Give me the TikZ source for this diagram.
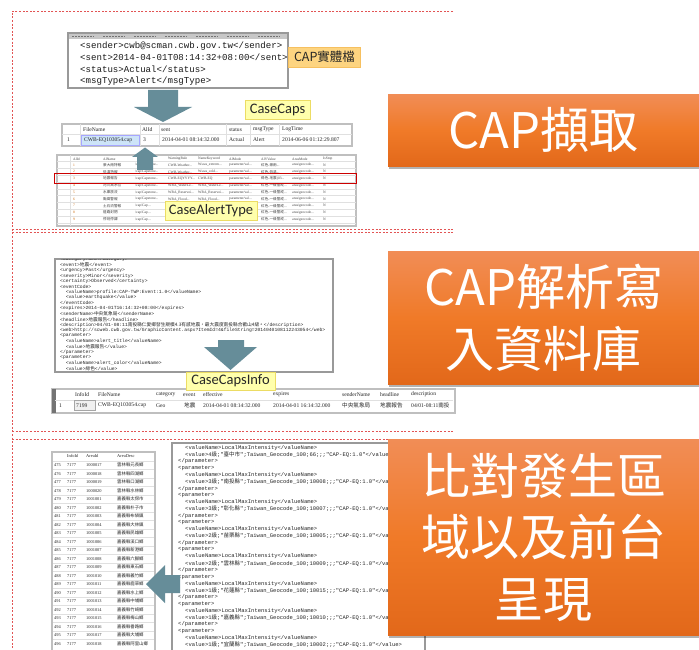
\documentclass[tikz,border=0pt]{standalone}
\usepackage{fontspec}
\setmainfont{Liberation Serif}
\newfontfamily\cjk{Noto Sans CJK TC}
\newfontfamily\monof{Liberation Mono}
\newfontfamily\calib{Carlito}
\usetikzlibrary{shadows}
\definecolor{arrowc}{RGB}{102,141,153}
\definecolor{orTop}{RGB}{241,141,86}
\definecolor{orMid}{RGB}{240,122,40}
\definecolor{orBot}{RGB}{226,104,26}
\definecolor{dashred}{RGB}{226,84,84}
\definecolor{lblY}{RGB}{255,255,172}
\definecolor{lblYb}{RGB}{236,220,100}
\definecolor{lblO}{RGB}{253,212,128}
\definecolor{lblOb}{RGB}{246,192,96}
\definecolor{selblue}{RGB}{205,228,248}
% full row
\newcommand\atrow[5]{%
  \pgfmathsetmacro\yy{165+6.8*(#1-1)}
  \node[tt,text=orange!80!black] (at#1a) at (73,\yy) {#1};
  \node[tt] (at#1b) at (103,\yy) {\cjk #2};
  \node[tt] (at#1c) at (135,\yy) {\textbackslash cap\textbackslash Capstone...};
  \node[tt] (at#1d) at (168,\yy) {#3};
  \node[tt] (at#1e) at (198,\yy) {#4};
  \node[tt] (at#1f) at (229,\yy) {parameter/val...};
  \node[tt] (at#1g) at (261,\yy) {#5};
  \node[tt] (at#1h) at (292,\yy) {area/geocode...};
  \node[tt] (at#1i) at (323,\yy) {N};
}
% row partly hidden behind the CaseAlertType label
\newcommand\atrowh[3]{%
  \pgfmathsetmacro\yy{165+6.8*(#1-1)}
  \node[tt,text=orange!80!black] (at#1a) at (73,\yy) {#1};
  \node[tt] (at#1b) at (103,\yy) {\cjk #2};
  \node[tt] (at#1c) at (135,\yy) {\textbackslash cap\textbackslash Cap...};
  \node[tt] (at#1g) at (261,\yy) {#3};
  \node[tt] (at#1h) at (292,\yy) {area/geocode...};
  \node[tt] (at#1i) at (323,\yy) {N};
}
\begin{document}
\begin{tikzpicture}[x=1pt,y=-1pt,
  tt/.style={anchor=west,inner sep=0pt,font=\fontsize{3.6}{4}\selectfont,text=black!75},
  ts/.style={anchor=west,inner sep=0pt,font=\fontsize{5.6}{6}\selectfont,text=black!85},
  tsm/.style={anchor=west,inner sep=0pt,font=\fontsize{4.4}{5}\selectfont,text=black!85},
  xmbig/.style={anchor=west,inner sep=0pt,font=\monof\fontsize{9.1}{10}\selectfont,text=black!90},
  xm/.style={anchor=west,inner sep=0pt,font=\monof\fontsize{4.7}{5}\selectfont,text=black!85},
  xmm/.style={anchor=west,inner sep=0pt,font=\monof\fontsize{5.5}{6}\selectfont,text=black!85},
  dashline/.style={draw=dashred,line width=0.6pt,dash pattern=on 2pt off 1.6pt},
  shot/.style={draw=black!40,line width=1.4pt,fill=white},
  tbl/.style={draw=black!25,line width=1.2pt,fill=white},
  grid/.style={draw=black!12,line width=0.3pt},
  arr/.style={fill=arrowc},
  lbly/.style={draw=lblYb,fill=lblY,line width=0.8pt,inner sep=0pt,minimum height=19pt,font=\calib\fontsize{14.5}{16}\selectfont,text=black!85},
  lblo/.style={draw=lblOb,fill=lblO,line width=0.8pt,inner sep=0pt,minimum height=20pt,minimum width=72pt,font=\cjk\fontsize{12.5}{14}\selectfont,text=black!85},
  obox/.style={anchor=north west,inner sep=0pt,minimum width=311pt,top color=orTop,bottom color=orBot,middle color=orMid,text=white,font=\cjk\fontsize{49}{61.5}\selectfont,align=center,drop shadow={shadow xshift=1pt,shadow yshift=-2.5pt,opacity=0.3,fill=black}}
]
\useasboundingbox (0,0) rectangle (699,650);
\fill[white] (0,0) rectangle (699,650);

% dashed frames
\draw[dashline] (453,11) -- (12,11) -- (12,650);
\draw[dashline] (12,229) -- (453,229);
\draw[dashline] (12,232.5) -- (453,232.5);
\draw[dashline] (12,431) -- (453,431);
\draw[dashline] (12,439) -- (453,439);

% ===== Section 1 =====
\draw[shot] (68,33) rectangle (288,88);
\fill[black!22] (69,33.7) rectangle (287.3,39.5);
\foreach \xx [count=\i] in {72,103,134,165,196,227,258} {
  \draw[black!55,line width=0.8pt,dash pattern=on 2pt off 1pt] (\xx,36.6) -- ++(22,0);
}
\node[xmbig] (x1a) at (80,46) {<sender>cwb@scman.cwb.gov.tw</sender>};
\node[xmbig] (x1b) at (80,57.7) {<sent>2014-04-01T08:14:32+08:00</sent>};
\node[xmbig] (x1c) at (80,69.4) {<status>Actual</status>};
\node[xmbig] (x1d) at (80,81.1) {<msgType>Alert</msgType>};
\node[lblo] (capfile) at (324.5,57) {CAP實體檔};

% CaseCaps table
\draw[tbl] (62,124) rectangle (352,146);
\draw[grid] (62,134) -- (352,134);
\foreach \xx in {80,140,159,226,250,279} {\draw[grid] (\xx,124) -- (\xx,146);}
\node[ts] (cch1) at (83,129.5) {FileName};
\node[ts] (cch2) at (142,129.5) {AlId};
\node[ts] (cch3) at (161,129.5) {sent};
\node[ts] (cch4) at (229,129.5) {status};
\node[ts] (cch5) at (253,129.5) {msgType};
\node[ts] (cch6) at (282,129.5) {LogTime};
\draw[fill=selblue,draw=blue!35,line width=0.5pt] (81,135) rectangle (139,145);
\node[ts] (ccr0) at (67,140) {1};
\node[ts] (ccr1) at (84,140) {CWB-EQ103054.cap};
\node[ts] (ccr2) at (143,140) {3};
\node[ts] (ccr3) at (162,140) {2014-04-01 08:14:32.000};
\node[ts] (ccr4) at (229,140) {Actual};
\node[ts] (ccr5) at (253,140) {Alert};
\node[ts] (ccr6) at (282,140) {2014-06-06 01:12:29.807};

% CaseAlertType table
\draw[tbl] (57,155) rectangle (356,226);
\foreach \i in {0,...,9} {\draw[grid] (57,161.6+6.8*\i) -- (356,161.6+6.8*\i);}
\draw[grid] (70,155) -- (70,226);
\node[tt] (ath1) at (73,159) {AlId};
\node[tt] (ath2) at (103,159) {AlName};
\node[tt] (ath4) at (168,159) {WarningRule};
\node[tt] (ath5) at (198,159) {NameKeyword};
\node[tt] (ath6) at (229,159) {AlMode};
\node[tt] (ath7) at (261,159) {AlVValue};
\node[tt] (ath8) at (292,159) {AreaMode};
\node[tt] (ath9) at (323,159) {IsStop};
\atrow{1}{豪大雨特報}{CWB-Weather...}{Wswa\_extrem...}{{\cjk 紅色}-{\cjk 豪雨}...}
\atrow{2}{低溫特報}{CWB-Weather...}{Wswa\_cold...}{{\cjk 紅色}-{\cjk 低溫}...}
\atrow{3}{地震報告}{CWB-EQYYYY...}{CWB-EQ}{{\cjk 綠色}-{\cjk 地震}(03...}
\atrow{4}{河川高水位}{WRA\_WaterLe...}{WRA\_WaterLe...}{{\cjk 紅色}-{\cjk 一級警戒}...}
\atrow{5}{水庫放流}{WRA\_Reservoi...}{WRA\_Reservoi...}{{\cjk 紅色}-{\cjk 一級警戒}...}
\atrow{6}{颱風警報}{WRA\_Flood...}{WRA\_Flood...}{{\cjk 紅色}-{\cjk 一級警戒}...}
\atrowh{7}{土石流警報}{{\cjk 紅色}-{\cjk 一級警戒}...}
\atrowh{8}{道路封閉}{{\cjk 紅色}-{\cjk 一級警戒}...}
\atrowh{9}{停班停課}{{\cjk 紅色}-{\cjk 一級警戒}...}
\draw[red!80!black,line width=0.9pt] (54,173) rectangle (356,183);

% arrows section 1
\fill[arr] (148,90) -- (178,90) -- (178,107) -- (192,107) -- (163,122) -- (134,107) -- (148,107) -- cycle;
\fill[arr] (137,170) -- (137,157) -- (132,157) -- (145,147.5) -- (158,157) -- (153,157) -- (153,170) -- cycle;
\node[lbly,minimum width=65pt] (lcc) at (277.5,110) {CaseCaps};
\node[lbly,minimum width=92pt] (lcat) at (211,210.5) {CaseAlertType};

% ===== Section 2 =====
\draw[shot] (55,259) rectangle (333,372);
\begin{scope}
\clip (56,259.7) rectangle (332.3,371.3);
\foreach \t [count=\i from 0] in {
 {<category>Geo</category>},
 {<event>{\cjk 地震}</event>},
 {<urgency>Past</urgency>},
 {<severity>Minor</severity>},
 {<certainty>Observed</certainty>},
 {<eventCode>},
 {\ \ <valueName>profile:CAP-TWP:Event:1.0</valueName>},
 {\ \ <value>earthquake</value>},
 {</eventCode>},
 {<expires>2014-04-01T16:14:32+08:00</expires>},
 {<senderName>{\cjk 中央氣象局}</senderName>},
 {<headline>{\cjk 地震報告}</headline>},
 {<description>04/01-08:11{\cjk 南投縣仁愛鄉發生規模4.3有感地震，最大震度南投縣合歡山4級。}</description>},
 {<web>http://scweb.cwb.gov.tw/GraphicContent.aspx?ItemId=4\&fileString=2014040108112243054</web>},
 {<parameter>},
 {\ \ <valueName>alert\_title</valueName>},
 {\ \ <value>{\cjk 地震報告}</value>},
 {</parameter>},
 {<parameter>},
 {\ \ <valueName>alert\_color</valueName>},
 {\ \ <value>{\cjk 綠色}</value>}
} {
  \node[xm] (x2l\i) at (60,259.6+5.44*\i) {\t};
}
\end{scope}
\fill[arr] (218,340) -- (244,340) -- (244,347) -- (257,347) -- (230.5,370) -- (204,347) -- (218,347) -- cycle;

% CaseCapsInfo table
\draw[tbl] (52,389) rectangle (455,413);
\fill[black!55] (52,389) rectangle (55.5,413);
\draw[grid] (55,400) -- (453,400);
\draw[fill=black!6,draw=black!35,line width=0.4pt] (74,400.5) rectangle (95,410.5);
\node[ts] (ci1) at (75,394.5) {InfoId};
\node[ts] (ci2) at (98,394.5) {FileName};
\node[ts] (ci3) at (156,394.5) {category};
\node[ts] (ci4) at (183,394.5) {event};
\node[ts] (ci5) at (203,394.5) {effective};
\node[ts] (ci6) at (273,394.5) {expires};
\node[ts] (ci7) at (342,394.5) {senderName};
\node[ts] (ci8) at (380,394.5) {headline};
\node[ts] (ci9) at (411,394.5) {description};
\node[ts] (cr0) at (59,405.5) {1};
\node[ts] (cr1) at (76,405.5) {7199};
\node[ts] (cr2) at (98,405.5) {CWB-EQ103054.cap};
\node[ts] (cr3) at (156,405.5) {Geo};
\node[ts] (cr4) at (184,405.5) {\cjk 地震};
\node[ts] (cr5) at (203,405.5) {2014-04-01 08:14:32.000};
\node[ts] (cr6) at (273,405.5) {2014-04-01 16:14:32.000};
\node[ts] (cr7) at (342,405.5) {\cjk 中央氣象局};
\node[ts] (cr8) at (380,405.5) {\cjk 地震報告};
\begin{scope}
\clip (400,398) rectangle (453,412);
\node[ts] (cr9) at (411,405.5) {04/01-08:11{\cjk 南投}};
\end{scope}
\node[lbly,minimum width=89pt,minimum height=18pt] (lcci) at (230.5,381) {CaseCapsInfo};

% ===== Section 3 =====
\draw[tbl] (52,452) rectangle (155,660);
\node[tsm] (ah1) at (67,456) {InfoId};
\node[tsm] (ah2) at (86,456) {AreaId};
\node[tsm] (ah3) at (117,456) {AreaDesc};
\foreach \aid/\nm [count=\k from 0] in {
 1000017/雲林縣元長鄉,1000018/雲林縣四湖鄉,1000019/雲林縣口湖鄉,1000020/雲林縣水林鄉,
 1001001/嘉義縣太保市,1001002/嘉義縣朴子市,1001003/嘉義縣布袋鎮,1001004/嘉義縣大林鎮,
 1001005/嘉義縣民雄鄉,1001006/嘉義縣溪口鄉,1001007/嘉義縣新港鄉,1001008/嘉義縣六腳鄉,
 1001009/嘉義縣東石鄉,1001010/嘉義縣義竹鄉,1001011/嘉義縣鹿草鄉,1001012/嘉義縣水上鄉,
 1001013/嘉義縣中埔鄉,1001014/嘉義縣竹崎鄉,1001015/嘉義縣梅山鄉,1001016/嘉義縣番路鄉,
 1001017/嘉義縣大埔鄉,1001018/嘉義縣阿里山鄉} {
  \pgfmathtruncatemacro\rn{475+\k}
  \draw[grid] (53,461+8.5*\k) -- (154,461+8.5*\k);
  \node[tsm] (ar\k a) at (54,465.2+8.5*\k) {\rn};
  \node[tsm] (ar\k b) at (67,465.2+8.5*\k) {7177};
  \node[tsm] (ar\k c) at (86,465.2+8.5*\k) {\aid};
  \node[tsm] (ar\k d) at (117,465.2+8.5*\k) {\cjk \nm};
}

\draw[shot] (172,443) rectangle (425,662);
\begin{scope}
\clip (173,443.7) rectangle (424.3,661);
\foreach \lv/\cty/\code [count=\g from 0] in {
 4/臺中市/66, 3/南投縣/10008, 3/彰化縣/10007, 2/苗栗縣/10005,
 2/雲林縣/10009, 1/花蓮縣/10015, 1/嘉義縣/10010, 1/宜蘭縣/10002} {
  \pgfmathsetmacro\yb{448+4*6.78*\g}
  \node[xmm] (x3v\g) at (185,\yb) {<valueName>LocalMaxIntensity</valueName>};
  \node[xmm] (x3w\g) at (185,\yb+6.78) {<value>\lv{\cjk 級};"{\cjk \cty}";Taiwan\_Geocode\_100;\code;;;"CAP-EQ:1.0"</value>};
  \ifnum\g<7
    \node[xmm] (x3e\g) at (178,\yb+2*6.78) {</parameter>};
    \node[xmm] (x3p\g) at (178,\yb+3*6.78) {<parameter>};
  \fi
}
\end{scope}
\fill[arr] (180,575) -- (165,575) -- (165,565) -- (146,584) -- (165,603) -- (165,593) -- (180,593) -- cycle;

% ===== Orange boxes =====
\node[obox,minimum height=72pt] (o1) at (388,94) {CAP擷取};
\node[obox,minimum height=133pt] (o2) at (388,251) {CAP解析寫\\入資料庫};
\node[obox,minimum height=196pt] (o3) at (388,439) {比對發生區\\域以及前台\\呈現};
\end{tikzpicture}
\end{document}
